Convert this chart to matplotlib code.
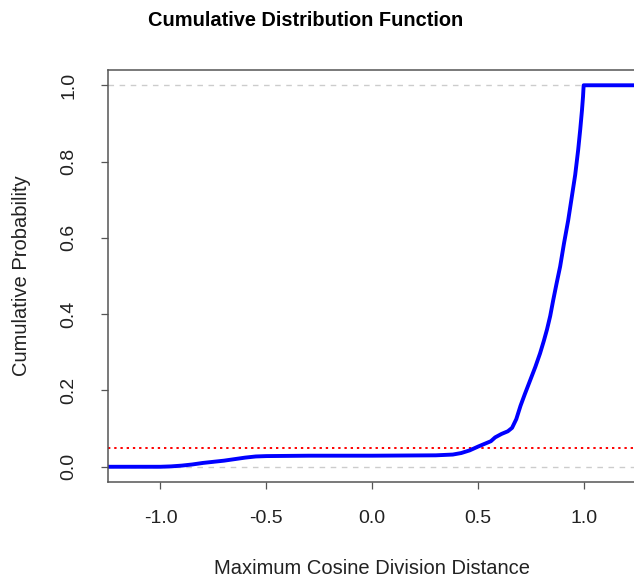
import numpy as np
import matplotlib.pyplot as plt

plt.rcParams['font.family'] = ['Liberation Sans', 'DejaVu Sans']

# empirical CDF of the maximum cosine division distance
dist = [-1.25, -1.0, -0.95, -0.9, -0.85, -0.8, -0.75, -0.7, -0.65, -0.6, -0.55,
        -0.5, -0.3, 0.0, 0.3, 0.38, 0.42, 0.46, 0.5, 0.53, 0.56, 0.58, 0.61,
        0.64, 0.66, 0.68, 0.7, 0.72, 0.745, 0.77, 0.792, 0.81, 0.825, 0.84,
        0.854, 0.87, 0.887, 0.905, 0.925, 0.94, 0.958, 0.972, 0.982, 0.99,
        0.995, 0.998, 1.25]
cum_prob = [0.0, 0.0, 0.001, 0.003, 0.006, 0.010, 0.013, 0.016, 0.020, 0.024,
            0.027, 0.028, 0.029, 0.029, 0.030, 0.032, 0.036, 0.043, 0.053,
            0.060, 0.067, 0.077, 0.086, 0.093, 0.102, 0.125, 0.160, 0.190,
            0.226, 0.262, 0.297, 0.330, 0.360, 0.395, 0.436, 0.480, 0.525,
            0.585, 0.646, 0.700, 0.765, 0.830, 0.885, 0.934, 0.970, 1.0, 1.0]
threshold = 0.05
x_ticks = [-1.0, -0.5, 0.0, 0.5, 1.0]
y_ticks = [0.0, 0.2, 0.4, 0.6, 0.8, 1.0]

fig = plt.figure(figsize=(6.34, 5.83), dpi=100)
ax = fig.add_axes([0.1703, 0.1732, 0.8338, 0.7067])

ax.axhline(0, color='#cccccc', lw=1, ls=(0, (4, 4)))
ax.axhline(1, color='#cccccc', lw=1, ls=(0, (4, 4)))
ax.axhline(threshold, color='red', lw=1.4, ls=(0, (1.2, 2)))
ax.plot(dist, cum_prob, color='blue', lw=2.8, solid_capstyle='butt',
        solid_joinstyle='round')

ax.set_xlim(-1.248, 1.248)
ax.set_ylim(-0.04, 1.04)
ax.set_xticks(x_ticks)
ax.set_xticklabels(['%.1f' % v for v in x_ticks])
ax.set_yticks(y_ticks)
ax.set_yticklabels(['%.1f' % v for v in y_ticks], rotation=90, va='center')
ax.tick_params(direction='out', length=5, width=0.9, colors='#555555',
               labelcolor='#222222', labelsize=14, pad=15)
ax.tick_params(axis='y', pad=17)
for s in ax.spines.values():
    s.set_color('#555555')
    s.set_linewidth(1.1)

fig.text(306 / 634, 1 - 20 / 583, 'Cumulative Distribution Function',
         ha='center', va='center', fontsize=14.4, fontweight='bold')
fig.text(372 / 634, 1 - 568 / 583, 'Maximum Cosine Division Distance',
         ha='center', va='center', fontsize=14.5, color='#222222')
fig.text(22 / 634, 1 - 276 / 583, 'Cumulative Probability',
         ha='center', va='center', rotation=90, fontsize=14.5, color='#222222')

fig.savefig('out.png', dpi=100)
